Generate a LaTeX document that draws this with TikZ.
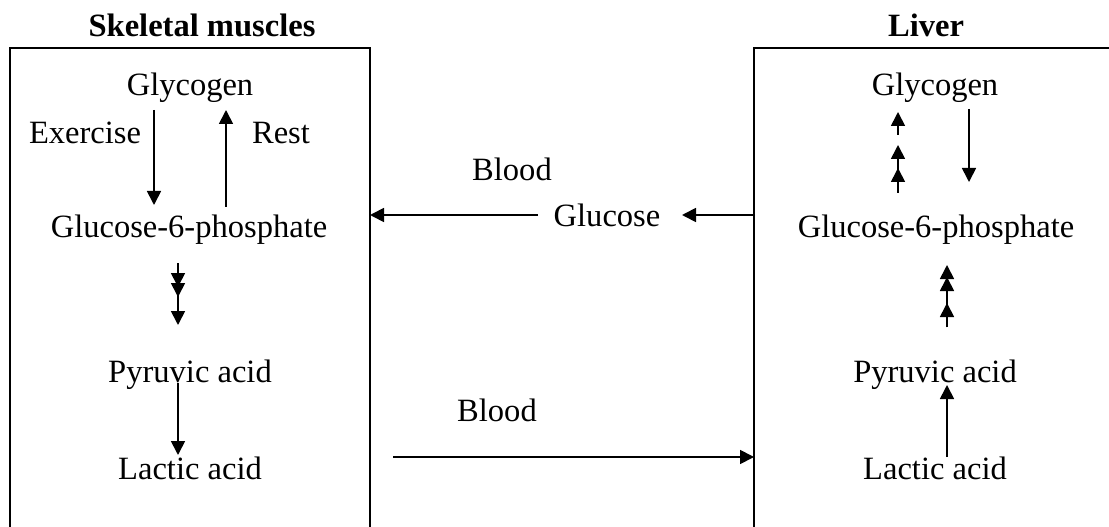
\documentclass[tikz,border=0pt]{standalone}
\usepackage{fontspec}
\setmainfont{Liberation Serif}
\usetikzlibrary{arrows.meta}
\begin{document}
\begin{tikzpicture}[x=0.75pt,y=-0.75pt,
    every node/.style={font=\fontsize{24.4}{29}\selectfont, anchor=base, inner sep=0pt},
    title/.style={font=\fontsize{24.4}{29}\selectfont\bfseries},
    organ/.style={line width=1.4pt},
    flow/.style={line width=1.3pt, -{Triangle[length=10.5pt,width=10.5pt]}}]
        \useasboundingbox (0,0) rectangle (1109,527);

        % Boxes
        \draw [organ] (10,535) -- (10,48) -- (370,48) -- (370,535);
        \draw [organ] (754,535) -- (754,48) -- (1115,48);

        % Nodes
        \node (muscle) [title] at (202,37) {Skeletal muscles};
        \node (liver) [title] at (926,37) {Liver};

        \node (glyL) at (190,96) {Glycogen};
        \node (exercise) at (85,144) {Exercise};
        \node (rest) at (281,144) {Rest};
        \node (g6pL) at (189,238) {Glucose-6-phosphate};
        \node (pyrL) at (190,382) {Pyruvic acid};
        \node (lacL) at (190,479) {Lactic acid};

        \node (blood1) at (512,181) {Blood};
        \node (glucose) at (607,227) {Glucose};
        \node (blood2) at (497,421) {Blood};

        \node (glyR) at (935,96) {Glycogen};
        \node (g6pR) at (936,238) {Glucose-6-phosphate};
        \node (pyrR) at (935,382) {Pyruvic acid};
        \node (lacR) at (935,479) {Lactic acid};

        % Arrow ends
        \coordinate (exTop) at (154,110);
        \coordinate (exEnd) at (154,205);
        \coordinate (restBot) at (226,207);
        \coordinate (restEnd) at (226,110);
        \coordinate (glyStart) at (178,263);
        \coordinate (glyA) at (178,287);
        \coordinate (glyB) at (178,297);
        \coordinate (glyC) at (178,325);
        \coordinate (pyrTop) at (178,383);
        \coordinate (pyrEnd) at (178,455);
        \coordinate (gluLeft) at (538,215);
        \coordinate (mBox) at (370,215);
        \coordinate (lBox) at (755,215);
        \coordinate (gluRight) at (682,215);
        \coordinate (lacStart) at (393,457);
        \coordinate (lBoxLow) at (754,457);
        \coordinate (synA0) at (898,135);
        \coordinate (synA) at (898,112);
        \coordinate (synB0) at (898,193);
        \coordinate (synB) at (898,145);
        \coordinate (synC) at (898,168);
        \coordinate (brkTop) at (969,109);
        \coordinate (brkEnd) at (969,182);
        \coordinate (gngStart) at (947,327);
        \coordinate (gngA) at (947,265);
        \coordinate (gngB) at (947,277);
        \coordinate (gngC) at (947,303);
        \coordinate (lacTop) at (947,457);
        \coordinate (lacEnd) at (947,385);

        % Arrows
        \draw [flow] (exTop) -- (exEnd);
        \draw [flow] (restBot) -- (restEnd);
        \draw [flow] (glyStart) -- (glyA);
        \draw [flow] (glyStart) -- (glyB);
        \draw [flow] (glyStart) -- (glyC);
        \draw [flow] (pyrTop) -- (pyrEnd);
        \draw [flow] (gluLeft) -- (mBox);
        \draw [flow] (lBox) -- (gluRight);
        \draw [flow] (lacStart) -- (lBoxLow);
        \draw [flow] (synA0) -- (synA);
        \draw [flow] (synB0) -- (synB);
        \draw [flow] (synB0) -- (synC);
        \draw [flow] (brkTop) -- (brkEnd);
        \draw [flow] (gngStart) -- (gngA);
        \draw [flow] (gngStart) -- (gngB);
        \draw [flow] (gngStart) -- (gngC);
        \draw [flow] (lacTop) -- (lacEnd);

    \end{tikzpicture}
\end{document}
